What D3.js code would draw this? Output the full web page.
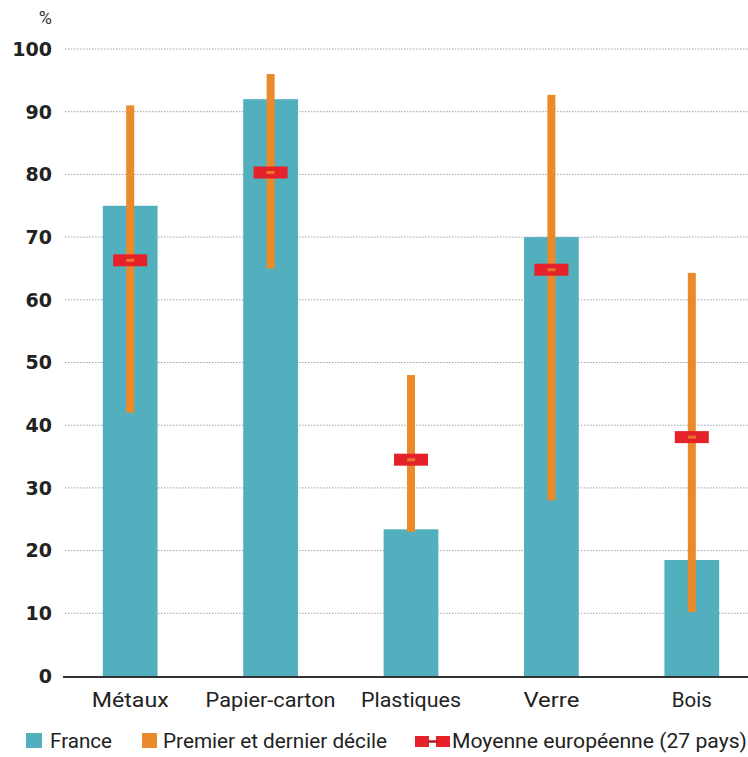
<!DOCTYPE html>
<html><head><meta charset="utf-8">
<script src="https://cdn.jsdelivr.net/npm/d3@7"></script>
<style>body{margin:0;background:#fff}svg{display:block}</style>
</head><body>
<svg id="c" width="748" height="757"></svg>
<script>
const categories = ["Métaux","Papier-carton","Plastiques","Verre","Bois"];
const france = [75, 92, 23.4, 70, 18.5];
const decileLow = [42, 65, 23, 28, 10.2];
const decileHigh = [91, 96, 48, 92.7, 64.3];
const euMean = [66.3, 80.3, 34.5, 64.8, 38.1];
const yTicks = [0,10,20,30,40,50,60,70,80,90,100];
const legendLabels = ["France","Premier et dernier décile","Moyenne européenne (27 pays)"];

const teal = "#52b0be", orange = "#ea8a2b", red = "#e52129";
const font = "Roboto,'Liberation Sans',sans-serif";
const svg = d3.select("#c");
const y = d3.scaleLinear().domain([0,100]).range([676,49]);
const x = d3.scaleBand().domain(categories).range([60,762]).paddingInner(0.61).paddingOuter(0.305);

// grid
svg.append("g").selectAll("line").data(yTicks.filter(d=>d>0)).join("line")
  .attr("x1",65).attr("x2",748).attr("y1",d=>y(d)).attr("y2",d=>y(d))
  .attr("stroke","#a0a0a0").attr("stroke-width",1).attr("stroke-dasharray","1.5,1.5");
// y labels
svg.append("g").selectAll("text").data(yTicks).join("text")
  .attr("x",52).attr("y",d=>y(d)).attr("dy","0.36em").attr("text-anchor","end")
  .attr("font-family","'DejaVu Sans',sans-serif").attr("font-weight","900").attr("font-size",19)
  .attr("fill","#222").text(d=>d);
svg.append("text").attr("x",52).attr("y",24).attr("text-anchor","end")
  .attr("font-family",font).attr("font-size",18).attr("fill","#333").text("%");

// bars
svg.append("g").selectAll("rect").data(categories).join("rect")
  .attr("x",d=>x(d)).attr("width",x.bandwidth())
  .attr("y",(d,i)=>y(france[i])).attr("height",(d,i)=>y(0)-y(france[i]))
  .attr("fill",teal);
// axis line
svg.append("line").attr("x1",63).attr("x2",748).attr("y1",y(0)+1).attr("y2",y(0)+1)
  .attr("stroke","#333").attr("stroke-width",2);
// decile ranges
svg.append("g").selectAll("rect").data(categories).join("rect")
  .attr("x",d=>x(d)+x.bandwidth()/2-4).attr("width",8)
  .attr("y",(d,i)=>y(decileHigh[i])).attr("height",(d,i)=>y(decileLow[i])-y(decileHigh[i]))
  .attr("fill",orange);
// EU mean
const m = svg.append("g").selectAll("g").data(categories).join("g")
  .attr("transform",(d,i)=>`translate(${x(d)+x.bandwidth()/2},${y(euMean[i])})`);
m.append("rect").attr("x",-17).attr("y",-6).attr("width",34).attr("height",12).attr("fill",red);
m.append("rect").attr("x",-4).attr("y",-1.5).attr("width",8).attr("height",3).attr("fill",orange).attr("opacity",0.8);

// x labels (condensed to match reference widths)
const xlW = [77,130,100,56,40];
svg.append("g").selectAll("text").data(categories).join("text")
  .attr("x",d=>x(d)+x.bandwidth()/2).attr("y",707).attr("text-anchor","middle")
  .attr("font-family",font).attr("font-size",21).attr("fill","#222")
  .attr("textLength",(d,i)=>xlW[i]).attr("lengthAdjust","spacingAndGlyphs").text(d=>d);

// legend
const lg = svg.append("g").attr("font-family",font).attr("font-size",20).attr("fill","#222");
const lgX = [50,163,452], lgW = [62,224,295];
lg.append("rect").attr("x",26).attr("y",733).attr("width",16).attr("height",15).attr("fill",teal);
lg.append("rect").attr("x",142).attr("y",733).attr("width",15).attr("height",15).attr("fill",orange);
lg.append("rect").attr("x",415).attr("y",736).attr("width",14).attr("height",11).attr("fill",red);
lg.append("rect").attr("x",436).attr("y",736).attr("width",14).attr("height",11).attr("fill",red);
lg.append("line").attr("x1",428).attr("x2",437).attr("y1",741.5).attr("y2",741.5).attr("stroke","#b01a22").attr("stroke-width",2.5);
lg.selectAll("text").data(legendLabels).join("text")
  .attr("x",(d,i)=>lgX[i]).attr("y",748)
  .attr("textLength",(d,i)=>lgW[i]).attr("lengthAdjust","spacingAndGlyphs").text(d=>d);
</script>
</body></html>
